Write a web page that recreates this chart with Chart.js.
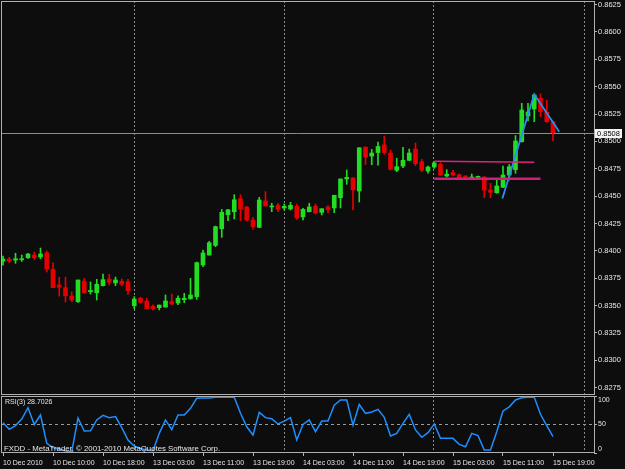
<!DOCTYPE html>
<html lang="en">
<head>
<meta charset="UTF-8">
<title>FXDD H1 chart with RSI(3)</title>
<style>
  html, body { margin: 0; padding: 0; background: #0d0d0d; overflow: hidden; }
  #wrap { position: relative; width: 625px; height: 469px; }
  #priceChart { position: absolute; left: 0; top: 0; width: 625px; height: 396px; }
  #rsiChart { position: absolute; left: 0; top: 396px; width: 625px; height: 73px; }
</style>
</head>
<body>
<div id="wrap">
  <canvas id="priceChart" width="625" height="396"></canvas>
  <canvas id="rsiChart" width="625" height="73"></canvas>
</div>

<script src="https://cdn.jsdelivr.net/npm/chart.js@4.4.0/dist/chart.umd.min.js"></script>
<script>
// hourly bars, 10 Dec 2010 02:00 .. 15 Dec 2010 19:00
const opens = [
  0.83907, 0.83925, 0.83916, 0.83919, 0.83937, 0.83962, 0.83944, 0.83983, 0.83831, 0.83688,
  0.83664, 0.83587, 0.83535, 0.83722, 0.83626, 0.83617, 0.83682, 0.83743, 0.83707, 0.83722,
  0.83716, 0.83499, 0.83567, 0.83542, 0.83493, 0.83481, 0.83487, 0.83536, 0.83524, 0.83554,
  0.83563, 0.83582, 0.83871, 0.83962, 0.84050, 0.84202, 0.84330, 0.84357, 0.84477, 0.84401,
  0.84282, 0.84215, 0.84456, 0.84401, 0.84416, 0.84392, 0.84383, 0.84407, 0.84310, 0.84358,
  0.84407, 0.84352, 0.84401, 0.84392, 0.84486, 0.84657, 0.84666, 0.84547, 0.84948, 0.84866,
  0.84898, 0.84968, 0.84894, 0.84736, 0.84775, 0.84827, 0.84930, 0.84815, 0.84729, 0.84766,
  0.84791, 0.84684, 0.84714, 0.84696, 0.84684, 0.84666, 0.84672, 0.84675, 0.84556, 0.84531,
  0.84581, 0.84693, 0.84742, 0.84997, 0.85232, 0.85296, 0.85394, 0.85266, 0.85180
];
const highs = [
  0.83953, 0.83941, 0.83978, 0.83962, 0.83978, 0.83987, 0.84026, 0.83999, 0.83891, 0.83759,
  0.83759, 0.83626, 0.83734, 0.83749, 0.83716, 0.83740, 0.83788, 0.83786, 0.83761, 0.83743,
  0.83740, 0.83581, 0.83576, 0.83567, 0.83508, 0.83505, 0.83597, 0.83606, 0.83588, 0.83612,
  0.83749, 0.83898, 0.84008, 0.84087, 0.84227, 0.84379, 0.84379, 0.84513, 0.84513, 0.84405,
  0.84306, 0.84489, 0.84541, 0.84435, 0.84435, 0.84428, 0.84444, 0.84428, 0.84389, 0.84435,
  0.84428, 0.84385, 0.84413, 0.84508, 0.84657, 0.84739, 0.84670, 0.84942, 0.84950, 0.84927,
  0.84994, 0.85050, 0.84921, 0.84846, 0.84946, 0.84930, 0.84985, 0.84836, 0.84775, 0.84809,
  0.84806, 0.84742, 0.84736, 0.84702, 0.84688, 0.84702, 0.84684, 0.84678, 0.84617, 0.84647,
  0.84775, 0.84790, 0.85053, 0.85348, 0.85348, 0.85430, 0.85433, 0.85378, 0.85186
];
const lows = [
  0.83870, 0.83891, 0.83886, 0.83904, 0.83932, 0.83922, 0.83928, 0.83807, 0.83664, 0.83587,
  0.83533, 0.83535, 0.83530, 0.83612, 0.83605, 0.83551, 0.83680, 0.83688, 0.83682, 0.83679,
  0.83603, 0.83472, 0.83521, 0.83469, 0.83457, 0.83460, 0.83485, 0.83508, 0.83508, 0.83527,
  0.83557, 0.83557, 0.83855, 0.83960, 0.84038, 0.84123, 0.84276, 0.84291, 0.84276, 0.84273,
  0.84199, 0.84212, 0.84410, 0.84358, 0.84358, 0.84373, 0.84373, 0.84288, 0.84282, 0.84355,
  0.84337, 0.84328, 0.84349, 0.84349, 0.84392, 0.84608, 0.84373, 0.84447, 0.84789, 0.84787,
  0.84784, 0.84883, 0.84739, 0.84723, 0.84760, 0.84825, 0.84778, 0.84723, 0.84711, 0.84754,
  0.84690, 0.84675, 0.84684, 0.84666, 0.84660, 0.84660, 0.84660, 0.84486, 0.84486, 0.84526,
  0.84578, 0.84647, 0.84709, 0.84995, 0.85187, 0.85180, 0.85226, 0.85175, 0.85004
];
const closes = [
  0.83925, 0.83907, 0.83928, 0.83928, 0.83971, 0.83937, 0.83971, 0.83834, 0.83664, 0.83667,
  0.83590, 0.83551, 0.83734, 0.83617, 0.83639, 0.83695, 0.83737, 0.83713, 0.83734, 0.83695,
  0.83636, 0.83560, 0.83530, 0.83472, 0.83472, 0.83505, 0.83542, 0.83514, 0.83567, 0.83567,
  0.83597, 0.83892, 0.83981, 0.84074, 0.84221, 0.84352, 0.84375, 0.84467, 0.84382, 0.84282,
  0.84221, 0.84465, 0.84410, 0.84410, 0.84379, 0.84407, 0.84416, 0.84300, 0.84379, 0.84401,
  0.84346, 0.84385, 0.84376, 0.84508, 0.84657, 0.84672, 0.84556, 0.84942, 0.84857, 0.84894,
  0.84953, 0.84898, 0.84745, 0.84769, 0.84827, 0.84894, 0.84796, 0.84736, 0.84766, 0.84803,
  0.84693, 0.84700, 0.84693, 0.84669, 0.84660, 0.84675, 0.84678, 0.84556, 0.84535, 0.84593,
  0.84693, 0.84769, 0.85004, 0.85287, 0.85269, 0.85424, 0.85272, 0.85180, 0.85080
];
const rsiValues = [
  53, 41.5, 48, 59.6, 79.5, 50, 66.7, 17, 9.4, 7,
  3.5, 2.3, 61, 38.6, 38.9, 58, 66, 62, 64, 44.4,
  22.8, 12.3, 8, 5.3, 4, 34.5, 58, 41, 66.7, 66.7,
  78.4, 96, 96.5, 96.5, 98, 98, 98, 98, 69.6, 46,
  31.6, 71.3, 62, 60, 50.9, 56, 62, 22.8, 50, 58,
  37.4, 56, 56, 84, 93, 93, 49, 85, 69.6, 72,
  76.6, 62.6, 29.8, 34.5, 52, 68, 40.4, 27.5, 35.7, 51,
  25.7, 25.7, 25.7, 15.2, 11, 34.5, 30.4, 5.3, 5.3, 37.4,
  73.7, 81, 93, 97, 98, 98, 68, 48, 28.7026
];

const timeTicks = [0, 8, 16, 24, 32, 40, 48, 56, 64, 72, 80, 88];
const timeLabels = [
  '10 Dec 2010', '10 Dec 10:00', '10 Dec 18:00', '13 Dec 03:00', '13 Dec 11:00', '13 Dec 19:00',
  '14 Dec 03:00', '14 Dec 11:00', '14 Dec 19:00', '15 Dec 03:00', '15 Dec 11:00', '15 Dec 19:00'
];
const priceTicks = [0.8275, 0.8300, 0.8325, 0.8350, 0.8375, 0.8400, 0.8425, 0.8450,
                    0.8475, 0.8500, 0.8525, 0.8550, 0.8575, 0.8600, 0.8625];
const rsiTicks = [0, 50, 100];
const daySeps = [20.88, 44.88, 68.88, 92.88];

// drawn objects
const levelTop = [{x: 69, y: 0.84819}, {x: 85, y: 0.84810}];
const levelBottom = [{x: 69, y: 0.84659}, {x: 86, y: 0.84659}];
const swingLine = [{x: 79.9, y: 0.84478}, {x: 85, y: 0.85430}, {x: 89, y: 0.85089}];
const bidPrice = 0.8508;

const UP = '#22dd22';
const DOWN = '#e60000';
const FONT = '"Liberation Sans", Arial, sans-serif';
const TEXT = '#e6e6e6';
const X_MIN = -0.32, X_MAX = 94.56;

const candleColor = i => closes[i] >= opens[i] ? UP : DOWN;

// dotted day separators, both windows
const daySeparators = {
  id: 'daySeparators',
  beforeDatasetsDraw(chart) {
    const {ctx, chartArea: a, scales: {x}} = chart;
    ctx.save();
    ctx.strokeStyle = '#8a8a8a';
    ctx.lineWidth = 1;
    ctx.setLineDash([2, 2]);
    daySeps.forEach(v => {
      const px = Math.round(x.getPixelForValue(v)) + 0.5;
      ctx.beginPath();
      ctx.moveTo(px, a.top);
      ctx.lineTo(px, a.bottom);
      ctx.stroke();
    });
    ctx.restore();
  }
};

const frame = {
  id: 'frame',
  afterDraw(chart) {
    const {ctx, chartArea: a} = chart;
    ctx.save();
    ctx.strokeStyle = '#b0b0b0';
    ctx.lineWidth = 1;
    ctx.strokeRect(a.left + 0.5, a.top + 0.5, a.right - a.left, a.bottom - a.top - 1);
    ctx.restore();
  }
};

// bid line + price box on the axis
const bid = {
  id: 'bid',
  beforeDatasetsDraw(chart) {
    const {ctx, chartArea: a, scales: {y}} = chart;
    const py = Math.round(y.getPixelForValue(bidPrice)) + 0.5;
    ctx.save();
    ctx.strokeStyle = '#8c8c8c';
    ctx.lineWidth = 1;
    ctx.beginPath();
    ctx.moveTo(a.left, py);
    ctx.lineTo(a.right, py);
    ctx.stroke();
    ctx.restore();
  },
  afterDraw(chart) {
    const {ctx, chartArea: a, scales: {y}} = chart;
    const py = Math.round(y.getPixelForValue(bidPrice));
    ctx.save();
    ctx.fillStyle = '#f4f4f4';
    ctx.fillRect(a.right + 1, py - 4, 27, 9);
    ctx.fillStyle = '#000';
    ctx.font = '7.5px ' + FONT;
    ctx.textBaseline = 'middle';
    ctx.fillText(bidPrice.toFixed(4), a.right + 3, py + 0.5);
    ctx.restore();
  }
};

const rsiCaption = {
  id: 'rsiCaption',
  afterDraw(chart) {
    const {ctx} = chart;
    ctx.save();
    ctx.fillStyle = TEXT;
    ctx.textBaseline = 'middle';
    ctx.font = '7px ' + FONT;
    ctx.fillText('RSI(3) ' + rsiValues[rsiValues.length - 1].toFixed(4), 5, 6.5);
    ctx.font = '7.8px ' + FONT;
    ctx.fillText('FXDD - MetaTrader, \u00a9 2001-2010 MetaQuotes Software Corp.', 4, 52.5);
    ctx.restore();
  }
};

new Chart(document.getElementById('priceChart'), {
  type: 'bar',
  data: {
    datasets: [
      {
        type: 'line', data: levelTop, borderColor: '#dc2382', borderWidth: 1.5,
        pointRadius: 0, order: 0
      },
      {
        type: 'line', data: levelBottom, borderColor: '#d21f7e', borderWidth: 2.5,
        pointRadius: 0, order: 0
      },
      {
        type: 'line', data: swingLine, borderColor: '#2a8ef0', borderWidth: 1.8,
        pointRadius: 0, order: 0
      },
      {
        label: 'bodies',
        data: opens.map((o, i) => ({x: i, y: [o, closes[i]]})),
        backgroundColor: c => candleColor(c.dataIndex),
        barThickness: 4, minBarLength: 1, grouped: false, borderWidth: 0, order: 1
      },
      {
        label: 'wicks',
        data: highs.map((h, i) => ({x: i, y: [lows[i], h]})),
        backgroundColor: c => candleColor(c.dataIndex),
        barThickness: 1, grouped: false, borderWidth: 0, order: 2
      }
    ]
  },
  options: {
    responsive: false,
    animation: false,
    devicePixelRatio: 1,
    layout: {padding: {left: 1, top: 1, right: 0, bottom: 1}},
    plugins: {legend: {display: false}, tooltip: {enabled: false}},
    scales: {
      x: {type: 'linear', min: X_MIN, max: X_MAX, offset: false, display: false},
      y: {
        position: 'right',
        min: 0.82683,
        max: 0.86283,
        afterBuildTicks: s => { s.ticks = priceTicks.map(v => ({value: v})); },
        afterFit: s => { s.width = 31; s.paddingTop = 0; s.paddingBottom = 0; },
        grid: {drawOnChartArea: false, drawTicks: true, tickLength: 3, color: '#b4b4b4'},
        border: {display: false},
        ticks: {color: TEXT, padding: 1, font: {family: FONT, size: 7.5}, callback: v => v.toFixed(4)}
      }
    }
  },
  plugins: [daySeparators, bid, frame]
});

new Chart(document.getElementById('rsiChart'), {
  type: 'line',
  data: {
    datasets: [{
      data: rsiValues.map((v, i) => ({x: i, y: v})),
      borderColor: '#1e8fff',
      borderWidth: 1.5,
      pointRadius: 0,
      tension: 0
    }]
  },
  options: {
    responsive: false,
    animation: false,
    devicePixelRatio: 1,
    layout: {padding: {left: 1, top: 0, right: 0, bottom: 0}},
    plugins: {legend: {display: false}, tooltip: {enabled: false}},
    scales: {
      x: {
        type: 'linear', min: X_MIN, max: X_MAX, offset: false,
        afterBuildTicks: s => { s.ticks = timeTicks.map(v => ({value: v})); },
        afterFit: s => { s.height = 16; s.paddingLeft = 0; s.paddingRight = 0; },
        grid: {drawOnChartArea: false, drawTicks: true, tickLength: 3, color: '#b4b4b4'},
        border: {display: false},
        ticks: {
          align: 'start', autoSkip: false, maxRotation: 0, padding: 3,
          color: TEXT, font: {family: FONT, size: 7},
          callback: (v, i) => timeLabels[i]
        }
      },
      y: {
        position: 'right', min: 0, max: 100,
        afterBuildTicks: s => { s.ticks = rsiTicks.map(v => ({value: v})); },
        afterFit: s => { s.width = 31; s.paddingTop = 0; s.paddingBottom = 0; },
        grid: {
          drawOnChartArea: true, drawTicks: true, tickLength: 3, tickColor: '#b4b4b4',
          color: c => c.tick && c.tick.value === 50 ? '#9a9a9a' : 'rgba(0,0,0,0)'
        },
        border: {display: false, dash: [3, 3]},
        ticks: {
          color: TEXT, padding: 1, font: {family: FONT, size: 7},
          // keep the top and bottom labels inside the window, as the terminal does
          callback: v => v === 100 ? ['', '100'] : (v === 0 ? ['0', ''] : String(v))
        }
      }
    }
  },
  plugins: [daySeparators, frame, rsiCaption]
});
</script>
</body>
</html>
